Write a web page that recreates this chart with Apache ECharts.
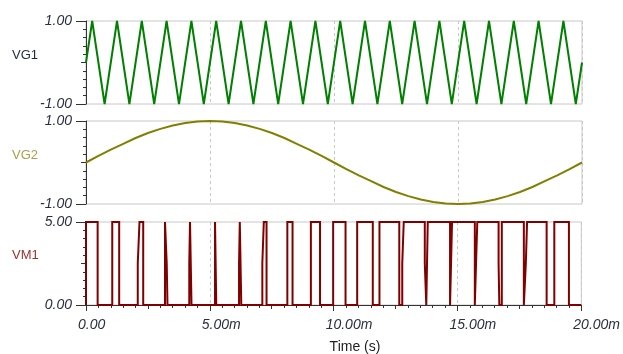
<!DOCTYPE html>
<html>
<head>
<meta charset="utf-8">
<script src="https://cdn.jsdelivr.net/npm/echarts@6/dist/echarts.min.js"></script>
<style>
  html, body { margin: 0; padding: 0; background: #fff; }
  #chart { width: 623px; height: 354px; }
</style>
</head>
<body>
<div id="chart"></div>
<script>
// Time axis is in milliseconds.

// VG1: triangle carrier, vertices (ms, V)
const vg1Time = [0, 0.25, 0.75, 1.25, 1.75, 2.25, 2.75, 3.25, 3.75, 4.25, 4.75,
  5.25, 5.75, 6.25, 6.75, 7.25, 7.75, 8.25, 8.75, 9.25, 9.75,
  10.25, 10.75, 11.25, 11.75, 12.25, 12.75, 13.25, 13.75, 14.25, 14.75,
  15.25, 15.75, 16.25, 16.75, 17.25, 17.75, 18.25, 18.75, 19.25, 19.75, 20];
const vg1Value = [0, 1, -1, 1, -1, 1, -1, 1, -1, 1, -1,
  1, -1, 1, -1, 1, -1, 1, -1, 1, -1,
  1, -1, 1, -1, 1, -1, 1, -1, 1, -1,
  1, -1, 1, -1, 1, -1, 1, -1, 1, -1, 0];

// VG2: reference wave (ms, V)
const vg2Time = [0, 0.5, 1, 1.5, 2, 2.5, 3, 3.5, 4, 4.5, 5, 5.5, 6, 6.5, 7, 7.5, 8, 8.5, 9, 9.5,
  10, 10.5, 11, 11.5, 12, 12.5, 13, 13.5, 14, 14.5, 15, 15.5, 16, 16.5, 17, 17.5, 18, 18.5, 19, 19.5, 20];
const vg2Value = [0, 0.16, 0.31, 0.45, 0.59, 0.71, 0.81, 0.89, 0.95, 0.99, 1.00, 0.99, 0.95, 0.89, 0.81, 0.71, 0.59, 0.45, 0.31, 0.16,
  0, -0.16, -0.31, -0.45, -0.59, -0.71, -0.81, -0.89, -0.95, -0.99, -1.00, -0.99, -0.95, -0.89, -0.81, -0.71, -0.59, -0.45, -0.31, -0.16, 0];

// VM1: comparator output, switching instants (ms) and the level reached (V)
const vm1Time = [0, 0.47, 1.06, 1.34, 2.09, 2.16, 2.31, 3.19, 3.26, 3.29,
  4.17, 4.20, 4.26, 5.21, 5.26, 6.18, 6.21, 6.27, 7.12, 7.18, 7.29,
  8.13, 8.34, 9.08, 9.45, 9.98, 10.48, 10.95, 11.58, 11.85, 12.65,
  12.77, 12.83, 13.68, 13.74, 13.80, 14.70, 14.78, 15.70, 15.75, 15.80,
  16.66, 16.69, 16.79, 17.68, 17.76, 17.81, 18.60, 18.91, 19.50];
const vm1Level = [5, 0, 5, 0, 2.5, 5, 0, 5, 2.5, 0,
  2.5, 5, 0, 5, 0, 2.5, 5, 0, 2.5, 5, 0,
  5, 0, 5, 0, 5, 0, 5, 0, 5, 0,
  2.5, 5, 2.5, 0, 5, 0, 5, 0, 2.5, 5,
  2.5, 0, 5, 0, 2.5, 5, 0, 5, 0];
const vm1Start = 0;   // level before the first switch
const vm1End = 20;    // end of the simulated interval (ms)

// Axis ranges and tick labels
const panelNames = ['VG1', 'VG2', 'VM1'];
const panelRanges = [[-1, 1], [-1, 1], [0, 5]];
const yTickLabels = [['-1.00', '1.00'], ['-1.00', '1.00'], ['0.00', '5.00']];
const xTickValues = [0, 5, 10, 15, 20];
const xTickLabels = ['0.00', '5.00m', '10.00m', '15.00m', '20.00m'];
const xTitle = 'Time (s)';

const axisColor = '#333333';
const frameColor = '#c8c8c8';
const labelFont = { fontFamily: 'Liberation Sans, Arial, sans-serif', fontSize: 14, fontStyle: 'italic', color: '#2a3040' };
const nameColors = ['#1e2a3a', '#a9a04a', '#983232'];
const lineColors = ['#008000', '#808000', '#800000'];

const gridTops = [21, 121, 222];
const grids = gridTops.map(top => ({
  left: 86, width: 496, top: top, height: 83,
  show: true, borderColor: frameColor, borderWidth: 1, backgroundColor: 'transparent'
}));

const xAxes = [];
const yAxes = [];
const dashed = { show: true, lineStyle: { color: frameColor, width: 1, type: [3, 3] } };

for (let i = 0; i < 3; i++) {
  const [lo, hi] = panelRanges[i];
  const labels = yTickLabels[i];
  // minor and middle ticks
  yAxes.push({
    gridIndex: i, type: 'value', position: 'left', min: lo, max: hi, interval: (hi - lo) / 2,
    axisLine: { show: true, lineStyle: { color: axisColor, width: 1 } },
    axisTick: { show: true, length: 5, lineStyle: { color: axisColor } },
    minorTick: { show: true, splitNumber: 5, length: 3, lineStyle: { color: axisColor } },
    axisLabel: { show: false },
    splitLine: { show: false }
  });
  // end ticks with labels
  yAxes.push({
    gridIndex: i, type: 'value', position: 'left', offset: 0, min: lo, max: hi,
    axisLine: { show: false },
    axisTick: { show: true, length: 10, customValues: [lo, hi], lineStyle: { color: axisColor } },
    axisLabel: Object.assign({
      show: true, customValues: [lo, hi], margin: 14,
      formatter: v => (v === lo ? labels[0] : labels[1])
    }, labelFont),
    splitLine: { show: false }
  });
}

// top panels: only the dashed time grid
for (let i = 0; i < 2; i++) {
  xAxes.push({
    gridIndex: i, type: 'value', position: 'bottom', min: 0, max: 20, interval: 5,
    axisLine: { show: false }, axisTick: { show: false }, axisLabel: { show: false },
    splitLine: dashed
  });
}
// bottom panel: minor ticks
xAxes.push({
  gridIndex: 2, type: 'value', position: 'bottom', min: 0, max: 20, interval: 2.5,
  axisLine: { show: true, lineStyle: { color: axisColor, width: 1 } },
  axisTick: { show: true, length: 4, lineStyle: { color: axisColor } },
  minorTick: { show: true, splitNumber: 5, length: 3, lineStyle: { color: axisColor } },
  axisLabel: { show: false },
  splitLine: { show: false }
});
// bottom panel: major ticks and labels
xAxes.push({
  gridIndex: 2, type: 'value', position: 'bottom', offset: 0, min: 0, max: 20, interval: 5,
  axisLine: { show: false },
  axisTick: { show: true, length: 6, lineStyle: { color: axisColor } },
  axisLabel: Object.assign({
    show: true, margin: 13, align: 'left', padding: [0, 0, 0, -8],
    formatter: v => xTickLabels[xTickValues.indexOf(v)] || ''
  }, labelFont),
  splitLine: dashed
});

const zip = (a, b) => a.map((t, k) => [t, b[k]]);

// square-wave outline: each switch is a vertical edge at its instant
function stepPoints(times, levels, start, end) {
  const pts = [[times[0], start]];
  let prev = start;
  times.forEach((t, k) => {
    pts.push([t, prev]);
    pts.push([t, levels[k]]);
    prev = levels[k];
  });
  pts.push([end, prev]);
  return pts;
}

const series = [
  {
    type: 'line', xAxisIndex: 0, yAxisIndex: 0, data: zip(vg1Time, vg1Value),
    showSymbol: false, clip: false, lineStyle: { color: lineColors[0], width: 2 }, z: 5
  },
  {
    type: 'line', xAxisIndex: 1, yAxisIndex: 2, data: zip(vg2Time, vg2Value),
    showSymbol: false, clip: false, lineStyle: { color: lineColors[1], width: 2 }, z: 5
  },
  {
    type: 'line', xAxisIndex: 2, yAxisIndex: 4, data: stepPoints(vm1Time, vm1Level, vm1Start, vm1End),
    showSymbol: false, clip: false, lineStyle: { color: lineColors[2], width: 2, join: 'miter' }, z: 5
  }
];

const nameY = [57, 157, 257];
const graphic = panelNames.map((n, i) => ({
  type: 'text', left: 12, top: nameY[i] - 8,
  style: { text: n, fill: nameColors[i], font: '13px "Liberation Sans", Arial, sans-serif' }
}));
graphic.push({
  type: 'text', x: 355, y: 347,
  style: { text: xTitle, fill: '#222222', font: '14px "Liberation Sans", Arial, sans-serif',
           align: 'center', verticalAlign: 'middle' }
});

const chart = echarts.init(document.getElementById('chart'), null, { renderer: 'canvas' });
chart.setOption({
  animation: false,
  backgroundColor: '#ffffff',
  grid: grids,
  xAxis: xAxes,
  yAxis: yAxes,
  series: series,
  graphic: graphic
});
</script>
</body>
</html>
